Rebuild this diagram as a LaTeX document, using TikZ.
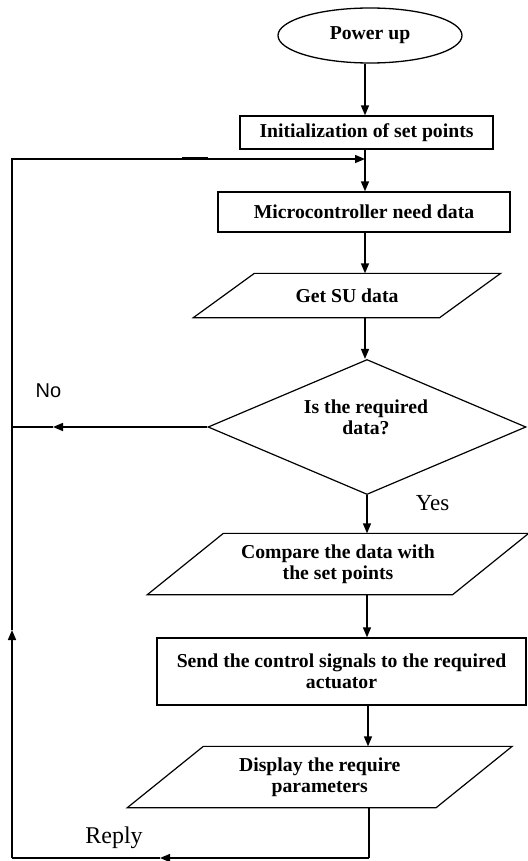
\documentclass[tikz,border=0pt]{standalone}
\usepackage{fontspec}
\setmainfont{Liberation Serif}
\newfontfamily\arialf{Liberation Sans}
\usetikzlibrary{arrows.meta,shapes.geometric}
\begin{document}
\begin{tikzpicture}[x=1pt,y=-1pt,
  box/.style={draw, line width=1.3pt, font=\fontsize{19.7}{21}\selectfont\bfseries, align=center, inner sep=0pt},
  body/.style={box, draw=none},
  ptxt/.style={inner sep=0pt, anchor=base},
  arr/.style={line width=1.5pt, -{Triangle[length=10pt,width=8pt]}},
  ln/.style={line width=1.5pt},
  shp/.style={line width=1.2pt}]
\useasboundingbox (0,0) rectangle (527,861);

% nodes
\node[box, ellipse, minimum width=184pt, minimum height=55pt] (pwr) at (370,35.5) {Power up};
\node[box, minimum width=253pt, minimum height=33pt] (init) at (366.5,132.5) {Initialization of set points};
\node[box, minimum width=292pt, minimum height=40pt] (micro) at (364,212) {Microcontroller need data};
\node[body, minimum width=245pt, minimum height=43pt] (get) at (347,295.5) {Get SU data};
\draw[shp] ([xshift=30.5pt]get.north west) -- ([xshift=30.5pt]get.north east)
  -- ([xshift=-30.5pt]get.south east) -- ([xshift=-30.5pt]get.south west) -- cycle;
\node[box, shp, diamond, aspect=2.35, minimum width=318pt, minimum height=135pt] (dia) at (367,427) {};
\node[body] (diatxt) at (366,417) {Is the required\\data?};
\node[body, minimum width=304pt, minimum height=60pt] (cmp) at (338,564) {Compare the data with\\the set points};
\draw[shp] ([xshift=38pt]cmp.north west) -- ([xshift=38pt]cmp.north east)
  -- ([xshift=-38pt]cmp.south east) -- ([xshift=-38pt]cmp.south west) -- cycle;
\node[box, minimum width=369pt, minimum height=67pt] (send) at (341.5,671.5) {Send the control signals to the required\\actuator};
\node[body, minimum width=307.5pt, minimum height=60pt] (disp) at (319.75,777) {Display the require\\parameters};
\draw[shp] ([xshift=38pt]disp.north west) -- ([xshift=38pt]disp.north east)
  -- ([xshift=-38pt]disp.south east) -- ([xshift=-38pt]disp.south west) -- cycle;

% labels
\node[ptxt, font=\arialf\fontsize{20}{22}\selectfont] (no) at (48.5,397) {No};
\node[ptxt, font=\fontsize{23}{25}\selectfont] (yes) at (432.5,510) {Yes};
\node[ptxt, font=\fontsize{24}{26}\selectfont] (reply) at (114,843) {Reply};

% column coordinates
\coordinate (c1) at (365,0);
\coordinate (c2) at (367,0);
\coordinate (c3) at (368,0);
\coordinate (c4) at (369,0);

% main flow
\draw[arr] (c1 |- pwr.south) -- (c1 |- init.north);
\draw[arr] (c1 |- init.south) -- (c1 |- micro.north);
\draw[arr] (c1 |- micro.south) -- (c1 |- get.north);
\draw[arr] (c1 |- get.south) -- (c1 |- dia.north);
\draw[arr] (dia.south) -- (dia.south |- cmp.north);
\draw[arr] (c2 |- cmp.south) -- (c2 |- send.north);
\draw[arr] (c3 |- send.south) -- (c3 |- disp.north);

% loop back
\coordinate (rb) at (369,858);
\coordinate (ra) at (160,858);
\coordinate (lb) at (12,858);
\coordinate (lu) at (12,630);
\coordinate (lt) at (12,159);
\coordinate (jn) at (365,159);
\coordinate (na) at (53,427);
\coordinate (th1) at (182,158.3);
\coordinate (th2) at (208,158.3);
\draw[ln] (c4 |- disp.south) -- (rb);
\draw[arr] (rb) -- (ra);
\draw[ln] (ra) -- (lb);
\draw[arr] (lb) -- (lu);
\draw[arr] (lu) -- (lt) -- (jn);
\draw[line width=2.8pt] (th1) -- (th2);
\draw[arr] (dia.west) -- (na);
\draw[ln] (na) -- (na -| lt);
\end{tikzpicture}
\end{document}
